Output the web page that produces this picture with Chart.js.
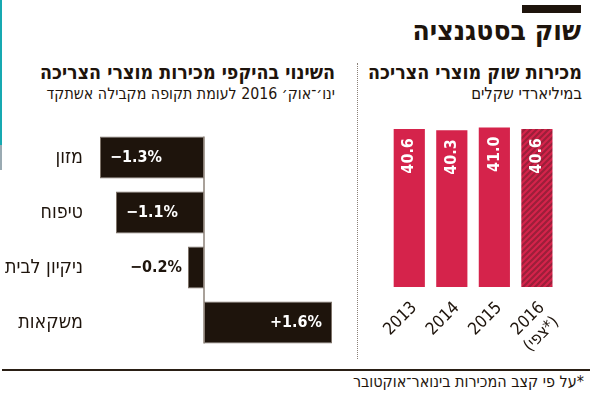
<!DOCTYPE html>
<html>
<head>
<meta charset="utf-8">
<script src="https://cdn.jsdelivr.net/npm/chart.js@4.4.0/dist/chart.umd.min.js"></script>
<style>
  body { margin: 0; background: #fff; }
  #wrap { position: relative; width: 590px; height: 393px; overflow: hidden; font-family: "DejaVu Sans Condensed", "DejaVu Sans", sans-serif; color: #1e140c; }
  .t { position: absolute; direction: rtl; text-align: right; white-space: nowrap; }
  canvas { position: absolute; }
</style>
</head>
<body>
<div id="wrap">
  <div style="position:absolute;left:0;top:0;width:2px;height:145px;background:#17a9b1"></div>
  <div style="position:absolute;left:0;top:145px;width:2px;height:25px;background:#9aaab2"></div>
  <div style="position:absolute;left:522px;top:5px;width:59px;height:8px;background:#1e140c"></div>
  <div class="t" style="right:9px;top:14px;font-size:28px;font-weight:bold">שוק בסטגנציה</div>

  <div class="t" style="right:8px;top:61px;font-size:19.5px;font-weight:bold">מכירות שוק מוצרי הצריכה</div>
  <div class="t" style="right:8px;top:84px;font-size:16.5px">במיליארדי שקלים</div>

  <div class="t" style="right:255px;top:61px;font-size:19.5px;font-weight:bold">השינוי בהיקפי מכירות מוצרי הצריכה</div>
  <div class="t" style="right:255px;top:84px;font-size:15.8px">ינו׳־אוק׳ 2016 לעומת תקופה מקבילה אשתקד</div>

  <div style="position:absolute;left:357px;top:63px;height:296px;border-left:1px dotted #8a8078"></div>
  <div style="position:absolute;left:2px;top:369px;width:588px;height:1.5px;background:#2a1f15"></div>
  <div class="t" style="right:6px;top:372px;font-size:16px">*על פי קצב המכירות בינואר־אוקטובר</div>

  <canvas id="change-chart" width="350" height="220" style="left:0;top:130px"></canvas>
  <canvas id="sales-chart" width="210" height="265" style="left:368px;top:112px"></canvas>
</div>

<script>
const categories = ["מזון", "טיפוח", "ניקיון לבית", "משקאות"];
const changeValues = [-1.3, -1.1, -0.2, 1.6];

const years = ["2013", "2014", "2015", ["2016", "(צפי*)"]];
const salesValues = [40.6, 40.3, 41.0, 40.6];

const dark = "#1e140c";
const red = "#d5234b";
const font = "'DejaVu Sans Condensed', 'DejaVu Sans', sans-serif";

// diagonal stripes for the forecast bar
function stripePattern() {
  const c = document.createElement("canvas");
  c.width = 6;
  c.height = 6;
  const g = c.getContext("2d");
  g.fillStyle = red;
  g.fillRect(0, 0, 6, 6);
  g.strokeStyle = "#9c1f3a";
  g.lineWidth = 2.2;
  g.beginPath();
  g.moveTo(-1, 7); g.lineTo(7, -1);
  g.moveTo(-4, 4); g.lineTo(4, -4);
  g.moveTo(2, 10); g.lineTo(10, 2);
  g.stroke();
  return g.createPattern(c, "repeat");
}

function fmtChange(v) {
  return (v < 0 ? "\u2212" : "+") + Math.abs(v).toFixed(1) + "%";
}

// zero line + percentage labels on the left chart
const changeLabels = {
  id: "changeLabels",
  afterDatasetsDraw(chart) {
    const ctx = chart.ctx;
    const bars = chart.getDatasetMeta(0).data;
    const x0 = chart.scales.x.getPixelForValue(0);
    ctx.save();
    ctx.strokeStyle = "#8c8278";
    ctx.lineWidth = 1.5;
    ctx.beginPath();
    ctx.moveTo(x0, bars[0].y - bars[0].height / 2);
    ctx.lineTo(x0, bars[bars.length - 1].y + bars[bars.length - 1].height / 2);
    ctx.stroke();

    ctx.font = "bold 16px " + font;
    ctx.textBaseline = "middle";
    bars.forEach((bar, i) => {
      const v = changeValues[i];
      const txt = fmtChange(v);
      if (v > 0) {
        ctx.fillStyle = "#fff";
        ctx.textAlign = "right";
        ctx.fillText(txt, bar.x - 10, bar.y);
      } else if (Math.abs(v) > 0.5) {
        ctx.fillStyle = "#fff";
        ctx.textAlign = "left";
        ctx.fillText(txt, bar.x + 10, bar.y);
      } else {
        ctx.fillStyle = dark;
        ctx.textAlign = "right";
        ctx.fillText(txt, bar.x - 6, bar.y);
      }
    });
    ctx.restore();
  },
};

// rotated value labels inside the right chart's bars
const salesLabels = {
  id: "salesLabels",
  afterDatasetsDraw(chart) {
    const ctx = chart.ctx;
    ctx.save();
    ctx.font = "bold 16px " + font;
    ctx.fillStyle = "#fff";
    ctx.textAlign = "right";
    ctx.textBaseline = "middle";
    chart.getDatasetMeta(0).data.forEach((bar, i) => {
      ctx.save();
      ctx.translate(bar.x, bar.y + 9);
      ctx.rotate(-Math.PI / 2);
      ctx.fillText(salesValues[i].toFixed(1), 0, 0);
      ctx.restore();
    });
    ctx.restore();
  },
};

new Chart(document.getElementById("change-chart"), {
  type: "bar",
  data: {
    labels: categories,
    datasets: [{
      data: changeValues,
      backgroundColor: dark,
      borderColor: "#7d7268",
      borderWidth: 1,
      borderSkipped: false,
      barPercentage: 0.764,
      categoryPercentage: 1,
    }],
  },
  options: {
    indexAxis: "y",
    responsive: false,
    animation: false,
    layout: { padding: { right: 5 } },
    plugins: { legend: { display: false }, tooltip: { enabled: false } },
    scales: {
      x: { display: false, min: -1.425, max: 1.7625 },
      y: {
        grid: { display: false, drawTicks: false },
        border: { display: false },
        ticks: { padding: 7, color: dark, font: { family: font, size: 19.5 } },
        afterFit: (scale) => {
          scale.width = 90;
          scale.paddingTop = 0;
          scale.paddingBottom = 0;
        },
      },
    },
  },
  plugins: [changeLabels],
});

new Chart(document.getElementById("sales-chart"), {
  type: "bar",
  data: {
    labels: years,
    datasets: [{
      data: salesValues,
      backgroundColor: [red, red, red, stripePattern()],
      barPercentage: 0.733,
      categoryPercentage: 1,
    }],
  },
  options: {
    responsive: false,
    animation: false,
    layout: { padding: { left: 20, right: 10 } },
    plugins: { legend: { display: false }, tooltip: { enabled: false } },
    scales: {
      y: { display: false, min: 0, max: 45 },
      x: {
        grid: { display: false, drawTicks: false },
        border: { display: false },
        ticks: {
          autoSkip: false,
          minRotation: 45,
          maxRotation: 45,
          padding: 11,
          labelOffset: 5,
          color: dark,
          font: { family: font, size: 17 },
        },
        afterFit: (scale) => { scale.height = 90; },
      },
    },
  },
  plugins: [salesLabels],
});
</script>
</body>
</html>
